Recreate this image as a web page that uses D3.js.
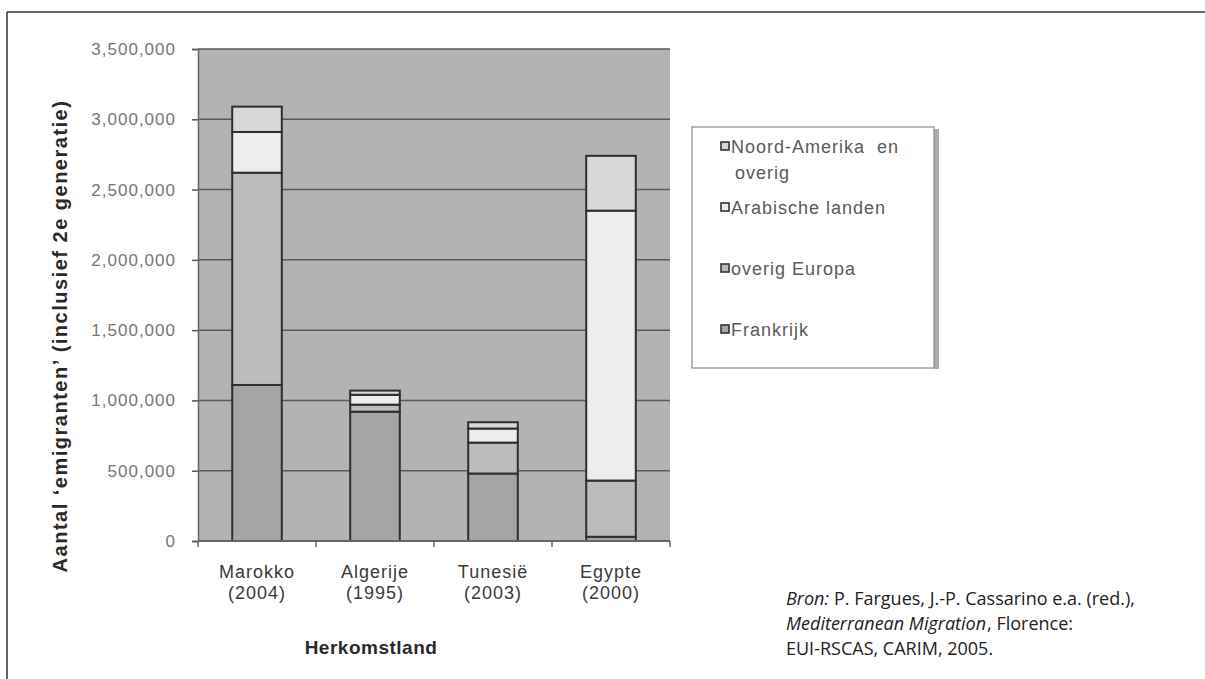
<!DOCTYPE html>
<html>
<head>
<meta charset="utf-8">
<script src="https://cdn.jsdelivr.net/npm/d3@7"></script>
<style>
  body { margin: 0; background: #fff; }
  svg { display: block; }
</style>
</head>
<body>
<svg class="chart" width="1205" height="679"></svg>
<script>
const countries = ["Marokko|(2004)", "Algerije|(1995)", "Tunesië|(2003)", "Egypte|(2000)"];
const seriesNames = ["Frankrijk", "overig Europa", "Arabische landen", "Noord-Amerika en overig"];
const frankrijk = [1110000, 920000, 480000, 30000];
const overigEuropa = [1510000, 50000, 220000, 400000];
const arabischeLanden = [290000, 70000, 100000, 1920000];
const noordAmerika = [180000, 30000, 45000, 390000];
const yTicks = [0, 500000, 1000000, 1500000, 2000000, 2500000, 3000000, 3500000];

const fills = ["#a6a6a6", "#bababa", "#ededed", "#d6d6d6"];
const dots = ["#999", "#c8c8c8", null, "#e6e6e6"];
const chartFont = "Liberation Sans, Arial, sans-serif";

const svg = d3.select(".chart");

// outer frame
svg.append("line").attr("x1", 7).attr("x2", 1205).attr("y1", 12).attr("y2", 12)
    .attr("stroke", "#333").attr("stroke-width", 1.5);
svg.append("line").attr("x1", 7).attr("x2", 7).attr("y1", 12).attr("y2", 679)
    .attr("stroke", "#333").attr("stroke-width", 1.5);

// dotted patterns
const defs = svg.append("defs");
fills.forEach((f, i) => {
    const p = defs.append("pattern").attr("id", "pat" + i)
        .attr("width", 4).attr("height", 4).attr("patternUnits", "userSpaceOnUse");
    p.append("rect").attr("width", 4).attr("height", 4).attr("fill", f);
    if (dots[i]) {
        p.append("rect").attr("x", 0).attr("y", 0).attr("width", 1).attr("height", 1).attr("fill", dots[i]);
        p.append("rect").attr("x", 2).attr("y", 2).attr("width", 1).attr("height", 1).attr("fill", dots[i]);
    }
});

const plotLeft = 198, plotRight = 670, plotTop = 49, plotBottom = 541;

const x = d3.scaleBand().domain(countries).range([plotLeft, plotRight]).paddingInner(0.58).paddingOuter(0.29);
const y = d3.scaleLinear().domain([0, 3500000]).range([plotBottom, plotTop]);

// plot area
svg.append("rect").attr("x", plotLeft).attr("y", plotTop)
    .attr("width", plotRight - plotLeft).attr("height", plotBottom - plotTop)
    .attr("fill", "#b3b3b3");

svg.append("g").selectAll("line").data(yTicks.slice(1)).join("line")
    .attr("x1", plotLeft).attr("x2", plotRight)
    .attr("y1", d => y(d)).attr("y2", d => y(d))
    .attr("stroke", "#5a5a5a").attr("stroke-width", 1.5);

// stacked bars
const rows = countries.map((c, i) => ({
    country: c,
    "Frankrijk": frankrijk[i],
    "overig Europa": overigEuropa[i],
    "Arabische landen": arabischeLanden[i],
    "Noord-Amerika en overig": noordAmerika[i]
}));
const stacked = d3.stack().keys(seriesNames)(rows);

svg.append("g").selectAll("g").data(stacked).join("g")
    .attr("fill", (d, i) => `url(#pat${i})`)
    .selectAll("rect").data(d => d).join("rect")
    .attr("x", d => x(d.data.country))
    .attr("width", x.bandwidth())
    .attr("y", d => y(d[1]))
    .attr("height", d => y(d[0]) - y(d[1]))
    .attr("stroke", "#2e2e2e").attr("stroke-width", 2);

// y axis
const yAxis = svg.append("g").attr("transform", `translate(${plotLeft},0)`)
    .call(d3.axisLeft(y).tickValues(yTicks).tickSize(6).tickFormat(d3.format(",")));
yAxis.select(".domain").attr("stroke", "#666").attr("stroke-width", 1.5);
yAxis.selectAll(".tick line").attr("stroke", "#555").attr("stroke-width", 1.5);
yAxis.selectAll(".tick text").attr("x", -22)
    .attr("font-family", chartFont).attr("font-size", 17).attr("letter-spacing", 1)
    .attr("fill", "#767676");

// x axis
const xAxis = svg.append("g").attr("transform", `translate(0,${plotBottom})`);
xAxis.append("line").attr("x1", plotLeft).attr("x2", plotRight).attr("stroke", "#666").attr("stroke-width", 2);
const boundaries = countries.slice(1).map(c => x(c) - x.step() * x.paddingInner() / 2);
xAxis.selectAll(".bt").data([plotLeft].concat(boundaries, [plotRight])).join("line").attr("class", "bt")
    .attr("x1", d => d).attr("x2", d => d).attr("y1", 0).attr("y2", 6)
    .attr("stroke", "#666").attr("stroke-width", 1.5);
xAxis.selectAll(".cl").data(countries).join("text").attr("class", "cl")
    .attr("text-anchor", "middle")
    .attr("font-family", chartFont).attr("font-size", 18).attr("letter-spacing", 1).attr("fill", "#3a3a3a")
    .each(function (d) {
        const parts = d.split("|");
        d3.select(this).selectAll("tspan").data(parts).join("tspan")
            .attr("x", x(d) + x.bandwidth() / 2)
            .attr("y", (p, i) => 37 + i * 21)
            .text(p => p);
    });

// axis titles
svg.append("text").attr("x", 371).attr("y", 654).attr("text-anchor", "middle")
    .attr("font-family", chartFont).attr("font-weight", "bold")
    .attr("font-size", 19).attr("letter-spacing", 0.5).attr("fill", "#2a2a2a").text("Herkomstland");
svg.append("text").attr("transform", "translate(67,336) rotate(-90)").attr("text-anchor", "middle")
    .attr("font-family", chartFont).attr("font-weight", "bold")
    .attr("font-size", 20).attr("letter-spacing", 1.5).attr("fill", "#2a2a2a")
    .text("Aantal ‘emigranten’ (inclusief 2e generatie)");

// legend
const lg = svg.append("g");
lg.append("rect").attr("x", 934).attr("y", 129).attr("width", 5).attr("height", 240).attr("fill", "#adadad");
lg.append("rect").attr("x", 692).attr("y", 127).attr("width", 242).attr("height", 241)
    .attr("fill", "#fff").attr("stroke", "#8a8a8a").attr("stroke-width", 1.2);
const legendItems = [
    { i: 3, lines: ["Noord-Amerika  en", "overig"], y: 153 },
    { i: 2, lines: ["Arabische landen"], y: 214 },
    { i: 1, lines: ["overig Europa"], y: 275 },
    { i: 0, lines: ["Frankrijk"], y: 336 }
];
const li = lg.selectAll(".li").data(legendItems).join("g").attr("class", "li");
li.append("rect").attr("x", 721).attr("y", d => d.y - 11).attr("width", 8).attr("height", 8)
    .attr("fill", d => fills[d.i]).attr("stroke", "#333").attr("stroke-width", 1.6);
li.append("text").attr("font-family", chartFont).attr("font-size", 18).attr("letter-spacing", 1)
    .attr("fill", "#5a5a5a")
    .selectAll("tspan").data(d => d.lines.map((t, k) => ({ t, k, y: d.y }))).join("tspan")
    .attr("x", d => d.k === 0 ? 731 : 735)
    .attr("y", d => d.y + d.k * 26)
    .style("white-space", "pre")
    .text(d => d.t);

// source, each run its own text element placed after the previous one
const sourceLines = [
    [{ t: "Bron:", it: true, gap: 5 }, { t: "P. Fargues, J.-P. Cassarino e.a. (red.),", it: false }],
    [{ t: "Mediterranean Migration", it: true, gap: 1 }, { t: ", Florence:", it: false }],
    [{ t: "EUI-RSCAS, CARIM, 2005.", it: false }]
];
sourceLines.forEach((runs, k) => {
    let cx = 786;
    runs.forEach(r => {
        const t = svg.append("text").attr("x", cx).attr("y", 605 + k * 25)
            .attr("font-family", "Open Sans, Noto Sans, sans-serif").attr("font-size", 18)
            .attr("font-style", r.it ? "italic" : "normal").attr("fill", "#222")
            .text(r.t);
        cx += t.node().getComputedTextLength() + (r.gap || 0);
    });
});
</script>
</body>
</html>
